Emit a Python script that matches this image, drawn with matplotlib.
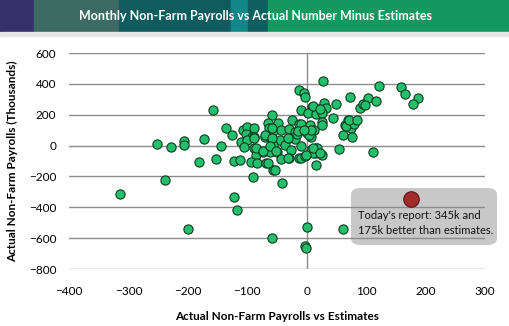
import numpy as np
import matplotlib
matplotlib.use("Agg")
import matplotlib.pyplot as plt
from matplotlib.patches import Rectangle, FancyBboxPatch

# Actual minus estimate (x) vs actual payrolls (y), thousands
vs_estimates = [
    -314, -252, -238, -229, -207, -207, -199, -182, -172, -158, -152, -145,
    -135, -126, -122, -122, -117, -112, -107, -100, -89, -103, -92, -110,
    -100, -89, -106, -88, -86, -74, -93, -84, -68, -56, -91, -42, -59,
    -59, -65, -63, -48, -56, -43, -30, -25, -13, -20, -71, -61, -45, -57,
    -62, -50, -37, -26, -29, -20, -17, -30, -44, -13, -13, -4, -3, -9,
    -10, -15, 0, -59, -71, -59, -31, -88, -85, -74, -62, -51, -9, -9,
    -31, -65, -54, -3,
    27, 9, 19, 29, 33, 50, 2, 16, 25, 44, 72, 70, 64, 75, 5, 13, 25, 8,
    4, 8, -5, 25, 11, 22, 8, 16, 16, 25, 15, 54, 11, 17, 11, -2, 22, 112,
    61, 77, 66, 79, 71, 85, 89, 95, 103, 117, 121, 158, 165, 187, 179, 98,
    1, 61, -3, -1,
]
actual = [
    -311, 10, -222, -8, 31, 3, -539, -106, 42, 229, -87, 0,
    111, 68, -98, -332, -418, -92, 104, 121, 111, 74, 57, 25,
    35, 53, -8, -18, -61, -40, -104, -111, -115, -158, -201, -240, -599,
    199, 145, 111, 145, 96, 102, 106, 165, 143, 89, 53, 57, 37, 3,
    -44, -40, 3, -29, 46, 42, 74, -83, -89, -83, 363, 340, 315, 232,
    139, 92, 81, 113, 70, 48, 48, 48, -16, -37, -5, -37, -5, -81,
    -81, -113, -156, -70,
    416, 248, 237, 274, 242, 268, 210, 203, 210, 177, 317, 166, 134, 113, 134, 102, 156, 53,
    68, 100, 100, 132, 255, 240, -27, -16, -48, -59, -124, -21, -50, -18, -18, -61, -50, -40,
    68, 57, 126, 139, 165, 165, 246, 272, 311, 287, 388, 379, 337, 311, 268, 266,
    -526, -541, -650, -665,
]
today_x = [175]
today_y = [-345]

W, H = 510, 326
fig = plt.figure(figsize=(W / 100, H / 100), dpi=100)
fig.patch.set_facecolor("white")
font = "Lato"

# header bar made of coloured blocks
blocks = [(0, 34, "#35306a"), (34, 119, "#3e6a64"), (119, 231, "#0f5b5e"),
          (231, 248, "#128688"), (248, 268, "#0f5e60"), (268, 510, "#14985f")]
for x0, x1, c in blocks:
    fig.patches.append(Rectangle((x0 / W, 1 - 32 / H), (x1 - x0) / W, 32 / H,
                                 transform=fig.transFigure, color=c, zorder=0))
fig.patches.append(Rectangle((0, 1 - 36 / H), 1, 4 / H, transform=fig.transFigure,
                             color="#e6e6e6", zorder=0))
fig.text(256 / W, 1 - 16 / H, "Monthly Non-Farm Payrolls vs Actual Number Minus Estimates",
         color="white", fontsize=9, fontweight="bold", family=font,
         ha="center", va="center")

ax = fig.add_axes([69 / W, 57 / H, 416 / W, 216 / H])
ax.set_xlim(-400, 300)
ax.set_ylim(-800, 600)
ax.set_xticks(np.arange(-400, 301, 100))
ax.set_yticks(np.arange(-800, 601, 200))
for s in ax.spines.values():
    s.set_visible(False)
ax.grid(axis="y", color="#8c8c8c", linewidth=1)
ax.axvline(0, color="#8c8c8c", linewidth=1, zorder=1)
ax.set_axisbelow(True)
ax.tick_params(length=0, labelsize=8.5, pad=9)
for lab in ax.get_xticklabels() + ax.get_yticklabels():
    lab.set_family(font)
ax.tick_params(axis="x", pad=12)

ax.scatter(vs_estimates, actual, s=44, color="#22c06c", edgecolor="#0d3b20",
           linewidth=0.8, zorder=3)

# annotation box (under the gridlines, like the original)
box = FancyBboxPatch((351 / W, 1 - 245 / H), 146 / W, 57 / H,
                     boxstyle="round,pad=0,rounding_size=0.02",
                     transform=fig.transFigure, facecolor="#c8c8c8",
                     edgecolor="none", zorder=0.3, clip_on=False)
ax.add_patch(box)
ax.scatter(today_x, today_y, s=125, color="#a02c2c", edgecolor="#5a1414",
           linewidth=0.8, zorder=6)
ax.text(358 / W, 1 - 223 / H, "Today's report: 345k and\n175k better than estimates.",
        transform=fig.transFigure, fontsize=8, family=font, color="#111111",
        ha="left", va="center", linespacing=1.35, zorder=7)

ax.set_xlabel("Actual Non-Farm Payrolls vs Estimates", fontsize=8.5,
              fontweight="bold", family=font, labelpad=10)
ax.set_ylabel("Actual Non-Farm Payrolls (Thousands)", fontsize=8.5,
              fontweight="bold", family=font, labelpad=8)

fig.savefig("out.png", dpi=100)
